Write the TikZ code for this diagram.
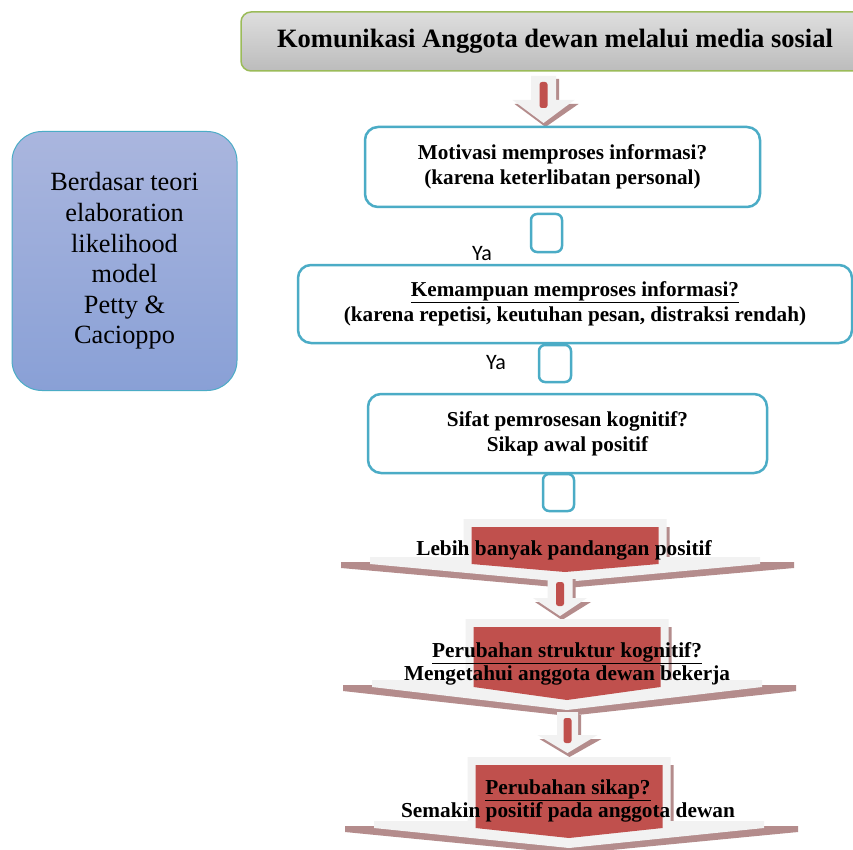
\documentclass[tikz,border=0pt]{standalone}
\usepackage{fontspec}
\setmainfont{Liberation Serif}
\newfontfamily\calibrifont{Carlito}
\definecolor{boxteal}{RGB}{75,172,198}
\definecolor{titlegreen}{RGB}{155,187,89}
\definecolor{arrred}{RGB}{192,80,77}
\definecolor{arrlight}{RGB}{242,242,242}
\definecolor{arrshadow}{RGB}{180,140,140}
\definecolor{lbtop}{RGB}{170,182,222}
\definecolor{lbbot}{RGB}{137,160,214}
\definecolor{ttop}{RGB}{222,222,222}
\definecolor{tbot}{RGB}{188,188,188}
\tikzset{
 qbox/.style={draw=boxteal, line width=2.5pt, rounded corners=13pt, fill=white, align=center, inner sep=0pt, font=\fontsize{21.2}{25}\selectfont\bfseries},
 sqbox/.style={draw=boxteal, line width=2.5pt, rounded corners=6pt, fill=white, minimum width=31pt, minimum height=38pt, inner sep=0pt},
 yalabel/.style={font=\calibrifont\fontsize{22}{26}\selectfont, inner sep=0pt},
 funneltext/.style={align=center, inner sep=0pt, font=\fontsize{21.3}{23}\selectfont\bfseries},
}
% #1 cx, #2 shaft top, #3 head top, #4 tip, #5 shaft half width, #6 head half width
\newcommand\DownArr[6]{%
 \fill[arrshadow] (#1-#5+3,#2+3) -- (#1+#5+3,#2+3) -- (#1+#5+3,#3+4) -- (#1+#6+4,#3+4) -- (#1+2,#4+4) -- (#1-#6+2,#3+4) -- (#1-#5+3,#3+4) -- cycle;
 \fill[arrlight] (#1-#5,#2) -- (#1+#5,#2) -- (#1+#5,#3) -- (#1+#6,#3) -- (#1,#4) -- (#1-#6,#3) -- (#1-#5,#3) -- cycle;
 \fill[arrred, rounded corners=2.5pt] (#1-4,#2+6) rectangle (#1+4,#3+8);
}
% #1 cx, #2 top, #3 wing y, #4 tip
\newcommand\Funnel[4]{%
 \fill[arrshadow] (#1-99,#2+8) -- (#1+104.5,#2+8) -- (#1+104.5,#3+5) -- (#1+229,#3+5) -- (#1+229,#3+11) -- (#1+1,#4+6) -- (#1-224,#3+11) -- (#1-224,#3+5) -- (#1-99,#3+5) -- cycle;
 \fill[arrlight] (#1-101.5,#2) -- (#1+101.5,#2) -- (#1+101.5,#3) -- (#1+195,#3) -- (#1+195,#3+7) -- (#1,#4) -- (#1-195,#3+7) -- (#1-195,#3) -- (#1-101.5,#3) -- cycle;
 \fill[arrred] (#1-93.5,#2+8) -- (#1+93.5,#2+8) -- (#1+93.5,#3+7) -- (#1,#4-10) -- (#1-93.5,#3+7) -- cycle;
}
\begin{document}
\begin{tikzpicture}[x=1pt,y=-1pt]
\useasboundingbox (0,0) rectangle (853,850);
\clip (0,0) rectangle (853,850);
\fill[white] (0,0) rectangle (853,850);

\node[draw=titlegreen, line width=1.5pt, rounded corners=10pt, top color=ttop, bottom color=tbot, minimum width=628pt, minimum height=59pt, inner sep=0pt, font=\fontsize{26.5}{30}\selectfont\bfseries] (title) at (555,41.5) {Komunikasi Anggota dewan melalui media sosial};

\node[draw=boxteal, line width=1pt, rounded corners=30pt, top color=lbtop, bottom color=lbbot, minimum width=225pt, minimum height=259pt, align=center, inner sep=0pt, font=\fontsize{26.3}{30.6}\selectfont] (theory) at (124.5,261) {Berdasar teori\\elaboration\\likelihood\\model\\Petty \&\\Cacioppo};

\DownArr{543.5}{76}{100}{123}{12.5}{31}

\node[qbox, minimum width=395pt, minimum height=80pt] (motiv) at (562.5,167) {Motivasi memproses informasi?\\(karena keterlibatan personal)};
\node[sqbox] (sq1) at (546.5,233) {};
\node[yalabel, anchor=base west] (ya1) at (472,260) {Ya};
\node[qbox, minimum width=554pt, minimum height=78pt] (kemamp) at (575,304) {\underline{Kemampuan memproses informasi?}\\(karena repetisi, keutuhan pesan, distraksi rendah)};
\node[sqbox, minimum width=32pt, minimum height=37pt] (sq2) at (555,363.5) {};
\node[yalabel, anchor=base west] (ya2) at (486,369) {Ya};
\node[qbox, minimum width=399pt, minimum height=79pt] (sifat) at (567.5,433.5) {Sifat pemrosesan kognitif?\\Sikap awal positif};
\node[sqbox, minimum height=37pt] (sq3) at (558.5,492.5) {};

\Funnel{565}{519}{557}{582}
\DownArr{560}{576}{598}{616}{12.5}{27}
\Funnel{567}{619}{680}{710}
\DownArr{567.5}{712}{735}{753}{10.5}{30}
\Funnel{569}{757}{821}{848}

\node[funneltext] (f1) at (564,550.2) {Lebih banyak pandangan positif};
\node[funneltext] (f2) at (567,663.7) {\underline{Perubahan struktur kognitif?}\\Mengetahui anggota dewan bekerja};
\node[funneltext] (f3) at (568,801.2) {\underline{Perubahan sikap?}\\Semakin positif pada anggota dewan};
\end{tikzpicture}
\end{document}
